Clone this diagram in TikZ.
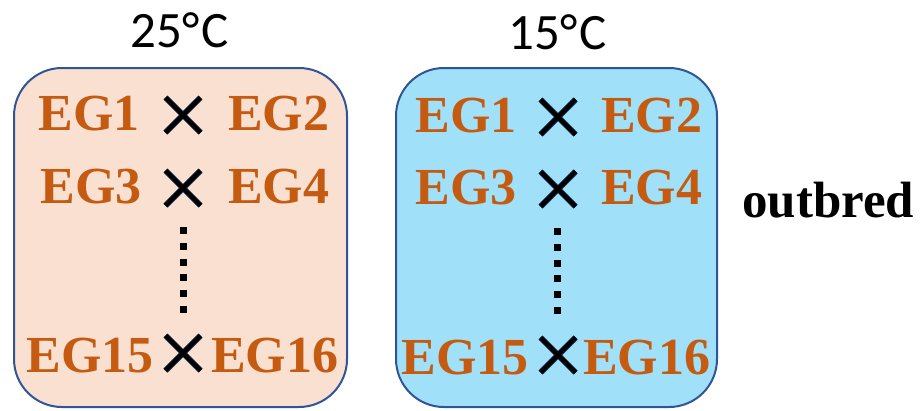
\documentclass[tikz,border=0pt]{standalone}
\usepackage{fontspec}
\setmainfont{Liberation Serif}
\newfontfamily\titlefont{Carlito}
\definecolor{egorange}{HTML}{C55A11}
\definecolor{warmfill}{HTML}{FAE0D0}
\definecolor{coolfill}{HTML}{A0E0F8}
\definecolor{boxedge}{HTML}{2F5597}
\definecolor{crossedge}{HTML}{203864}
\begin{document}
\begin{tikzpicture}[x=1pt,y=-1pt,
  groupbox/.style={draw=boxedge, line width=2pt, rounded corners=48pt},
  eglabel/.style={inner sep=0pt, text=egorange, font=\fontsize{52}{60}\selectfont\bfseries},
  temptitle/.style={inner sep=0pt, font=\titlefont\fontsize{51}{60}\selectfont, anchor=base},
  sidelabel/.style={inner sep=0pt, font=\fontsize{51}{60}\selectfont\bfseries, anchor=base west},
  crossbox/.style={minimum size=35pt, inner sep=0pt, outer sep=0pt},
  crossunder/.style={draw=crossedge, line width=6pt},
  crossover/.style={draw=black, line width=4.4pt},
  ellipsis/.style={draw=black, line width=7pt, dash pattern=on 7pt off 8.8pt}
]
\useasboundingbox (0,0) rectangle (923,410);

% two temperature groups
\draw[groupbox, fill=warmfill] (14,68) rectangle (347,407);
\draw[groupbox, fill=coolfill] (396,68) rectangle (717,407);

\node[temptitle] (t25) at (180,47) {25°\kern2ptC};
\node[temptitle] (t15) at (558,49) {15°\kern2ptC};

% crosses within the 25 degree group
\node[eglabel, anchor=base east] (a1)  at (140,130) {EG1};
\node[eglabel, anchor=base west] (a2)  at (228,130) {EG2};
\node[eglabel, anchor=base east] (a3)  at (142,203) {EG3};
\node[eglabel, anchor=base west] (a4)  at (228,203) {EG4};
\node[eglabel, anchor=base east] (a15) at (154,372) {EG15};
\node[eglabel, anchor=base west] (a16) at (211,372) {EG16};
\node[crossbox] (ax1) at (183,115) {};
\node[crossbox] (ax2) at (183,188) {};
\node[crossbox] (ax3) at (183,353) {};
\coordinate (ad1) at (183,227);
\coordinate (ad2) at (183,313);

% crosses within the 15 degree group
\node[eglabel, anchor=base east] (b1)  at (517,132) {EG1};
\node[eglabel, anchor=base west] (b2)  at (601,132) {EG2};
\node[eglabel, anchor=base east] (b3)  at (517,204) {EG3};
\node[eglabel, anchor=base west] (b4)  at (601,204) {EG4};
\node[eglabel, anchor=base east] (b15) at (529,374) {EG15};
\node[eglabel, anchor=base west] (b16) at (583,374) {EG16};
\node[crossbox] (bx1) at (558,117) {};
\node[crossbox] (bx2) at (558,189) {};
\node[crossbox] (bx3) at (558,355) {};
\coordinate (bd1) at (557,228);
\coordinate (bd2) at (557,315);

% cross marks: dark outline first, black stroke on top
\foreach \c in {ax1,ax2,ax3,bx1,bx2,bx3} {
  \draw[crossunder] (\c.north west) -- (\c.south east);
  \draw[crossunder] (\c.north east) -- (\c.south west);
}
\foreach \c in {ax1,ax2,ax3,bx1,bx2,bx3} {
  \draw[crossover] (\c.north west) -- (\c.south east);
  \draw[crossover] (\c.north east) -- (\c.south west);
}

% vertical ellipses
\draw[ellipsis] (ad1) -- (ad2);
\draw[ellipsis] (bd1) -- (bd2);

\node[sidelabel] (ob) at (742,217) {outbred};
\end{tikzpicture}
\end{document}
